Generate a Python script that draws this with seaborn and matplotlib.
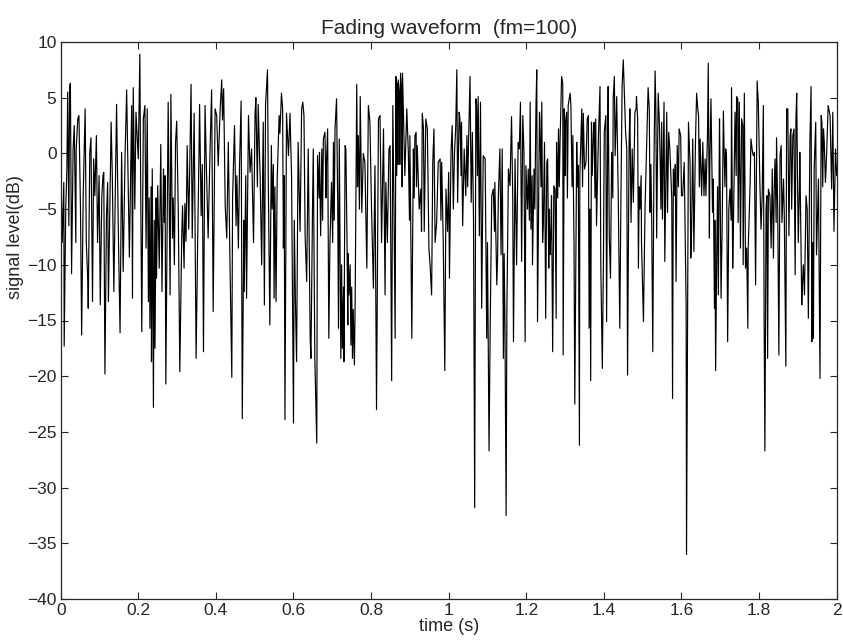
import numpy as np
import pandas as pd
import matplotlib
matplotlib.use("Agg")
import matplotlib.pyplot as plt
import seaborn as sns

sns.set_style("ticks")
plt.rcParams['font.family'] = ['Liberation Sans', 'DejaVu Sans']

# (time s, level dB), one block per ~0.17 s
seg01 = [(0.000, -0.2), (0.004, -8.0), (0.008, -2.6), (0.009, -17.3), (0.013, -5.0), (0.016, -1.4),
         (0.018, 5.5), (0.021, -6.5), (0.023, 6.0), (0.025, 6.3), (0.027, -5.0), (0.028, -10.8),
         (0.032, 0.4), (0.035, 2.5), (0.039, -8.0), (0.040, 0.4), (0.044, 3.1), (0.047, 3.4),
         (0.051, -5.0), (0.054, -16.3), (0.058, -3.8), (0.061, 1.0), (0.063, 4.0), (0.066, -8.0),
         (0.070, -11.6), (0.071, -13.9), (0.075, 0.1), (0.078, 1.4), (0.082, -13.3), (0.085, -0.5),
         (0.088, -3.8), (0.092, 1.6), (0.095, -8.0), (0.099, -2.0), (0.102, -13.6), (0.106, -3.8),
         (0.109, -2.0), (0.111, -1.7), (0.114, -19.8), (0.118, -5.6), (0.121, -2.6), (0.123, -13.3),
         (0.126, -6.5), (0.130, 2.8), (0.133, -2.0), (0.137, -12.4), (0.140, -5.0), (0.144, 4.4),
         (0.149, -8.0), (0.153, -16.1), (0.157, 0.1), (0.161, -10.6), (0.166, 0.0)]
seg02 = [(0.170, 5.7), (0.177, -9.3), (0.183, 4.3), (0.185, -13.0), (0.187, 5.9), (0.191, -5.0),
         (0.194, 3.7), (0.200, -0.5), (0.204, 8.9), (0.206, -2.0), (0.209, -16.0), (0.213, 3.1),
         (0.217, 4.3), (0.220, -8.5), (0.223, 4.0), (0.226, -13.3), (0.228, -4.0), (0.230, -15.7),
         (0.233, -3.0), (0.234, -18.7), (0.236, -1.4), (0.239, -22.8), (0.241, -6.0), (0.243, -17.5),
         (0.246, -4.0), (0.247, -11.2), (0.250, -2.9), (0.254, -10.3), (0.258, 0.8), (0.261, -12.4),
         (0.265, -1.4), (0.267, -6.2), (0.269, -2.0), (0.271, -20.7), (0.275, -3.0), (0.277, 4.6),
         (0.282, -12.7), (0.284, 5.3), (0.288, -7.6), (0.290, -4.0), (0.293, -10.0), (0.296, 1.0),
         (0.299, 2.9), (0.303, -5.0), (0.307, -19.6), (0.312, -7.4), (0.314, -4.7), (0.318, -10.3),
         (0.320, -4.5), (0.323, -7.9), (0.326, 0.7), (0.330, -6.8), (0.333, -0.5)]
seg03 = [(0.336, 6.2), (0.339, -7.6), (0.344, 3.6), (0.349, -18.4), (0.353, -8.0), (0.356, -1.0),
         (0.358, 4.4), (0.362, -5.6), (0.365, -1.0), (0.368, -17.8), (0.372, 4.3), (0.376, -2.0),
         (0.380, -7.6), (0.385, 0.4), (0.389, 5.7), (0.393, -14.2), (0.398, 4.0), (0.402, 3.4),
         (0.406, -1.1), (0.411, 4.0), (0.415, 6.6), (0.417, 3.0), (0.420, 5.8), (0.424, -4.7),
         (0.428, -7.6), (0.432, 1.0), (0.436, -9.1), (0.441, -20.1), (0.443, -4.0), (0.448, 2.5),
         (0.452, -6.5), (0.454, -2.0), (0.458, -8.5), (0.461, -1.0), (0.465, 4.7), (0.468, -23.8),
         (0.472, -6.0), (0.473, -12.4), (0.477, -2.0), (0.479, -13.0), (0.484, 3.4), (0.488, -1.7),
         (0.492, 0.4), (0.497, -8.0), (0.501, 3.6)]
seg04 = [(0.503, 5.0), (0.507, -3.0), (0.509, 4.4), (0.514, -2.0), (0.518, -10.0), (0.522, 2.8),
         (0.525, -13.6), (0.528, 4.4), (0.533, 7.5), (0.535, -2.3), (0.539, -15.4), (0.543, 0.7),
         (0.545, -5.0), (0.548, -1.0), (0.550, -13.0), (0.552, -3.0), (0.555, -13.3), (0.558, -2.3),
         (0.563, 3.4), (0.565, 1.8), (0.569, 5.4), (0.572, 4.0), (0.574, -8.5), (0.576, -2.0),
         (0.578, -23.9), (0.582, 3.6), (0.587, -0.2), (0.591, 3.6), (0.595, -2.0), (0.600, -24.2),
         (0.602, -6.0), (0.605, -13.3), (0.608, -18.7), (0.612, 1.0), (0.617, -7.0), (0.621, 4.0),
         (0.624, 4.6), (0.627, 3.4), (0.630, -7.4), (0.634, -11.5), (0.638, 0.4), (0.643, -16.6),
         (0.645, -18.4), (0.649, -5.0), (0.651, 0.4), (0.655, -18.4), (0.660, -26.0)]
seg05 = [(0.662, -0.2), (0.666, -4.0), (0.667, 0.1), (0.670, -7.4), (0.673, 0.4), (0.675, -6.0),
         (0.677, 1.3), (0.681, 1.9), (0.684, -4.0), (0.685, -0.8), (0.688, 2.2), (0.691, -16.6),
         (0.694, -8.0), (0.698, -2.6), (0.701, -8.0), (0.703, 1.0), (0.705, -6.0), (0.707, 2.2),
         (0.711, 4.9), (0.714, -4.7), (0.716, -15.7), (0.718, 1.3), (0.722, -18.4), (0.724, -10.0),
         (0.726, -17.5), (0.729, -12.0), (0.730, -18.7), (0.733, 0.7), (0.735, 0.4), (0.738, -8.0),
         (0.740, -15.4), (0.741, -9.0), (0.743, -12.7), (0.746, -10.0), (0.748, -17.2), (0.750, -12.0),
         (0.752, -18.4), (0.754, -14.0), (0.757, -19.0), (0.759, -13.0), (0.763, 6.2), (0.765, -3.0),
         (0.767, 1.6), (0.770, -5.0), (0.772, 5.1), (0.776, -5.3), (0.780, 0.0), (0.784, -0.8),
         (0.789, -10.3), (0.793, 4.3), (0.797, 2.8), (0.801, -4.7), (0.806, -12.1), (0.810, -1.1),
         (0.814, -23.0), (0.819, 3.1), (0.823, 3.4), (0.827, -8.0), (0.832, 2.2), (0.836, -12.7)]
seg06 = [(0.838, -2.6), (0.842, -8.0), (0.846, 0.4), (0.849, 0.7), (0.853, -20.4), (0.856, 4.3),
         (0.859, -5.0), (0.862, -16.6), (0.864, 6.9), (0.866, -2.0), (0.868, 6.3), (0.869, -1.0),
         (0.870, 6.6), (0.873, 5.4), (0.874, -1.0), (0.876, 7.2), (0.879, 5.4), (0.880, -3.0),
         (0.881, 7.2), (0.883, 4.0), (0.887, -2.0), (0.892, 4.0), (0.896, 0.1), (0.899, -6.0),
         (0.900, 1.6), (0.905, -16.6), (0.909, 0.4), (0.911, -4.0), (0.913, 1.6), (0.916, 1.9),
         (0.917, -3.0), (0.919, 0.7), (0.924, -5.0), (0.928, -3.2), (0.930, -7.0), (0.932, 3.6),
         (0.935, 2.2), (0.937, -7.0), (0.941, 3.1), (0.945, 2.2), (0.949, -8.5), (0.952, -10.0),
         (0.956, -12.7), (0.959, -0.8), (0.962, 2.2), (0.965, -8.0), (0.969, -6.2), (0.973, -0.8),
         (0.978, -0.5), (0.980, -6.0), (0.982, -0.8), (0.986, -8.0), (0.990, -19.5), (0.993, -3.2),
         (0.997, -7.0), (1.000, -1.7)]
seg07 = [(1.002, -11.2), (1.006, 0.1), (1.009, 2.5), (1.012, -5.0), (1.015, 0.1), (1.018, 2.2),
         (1.021, 7.5), (1.023, -4.4), (1.027, 3.7), (1.029, 3.1), (1.032, -2.0), (1.033, 2.8),
         (1.036, -6.5), (1.040, 0.4), (1.044, -3.8), (1.047, 1.6), (1.049, -3.0), (1.051, 0.7),
         (1.055, 6.9), (1.058, -4.4), (1.061, 1.9), (1.064, -6.0), (1.067, -31.8), (1.070, 4.9),
         (1.072, 4.3), (1.074, -2.0), (1.076, 5.1), (1.079, -7.4), (1.082, 4.6), (1.085, -13.9),
         (1.089, -0.2), (1.094, -0.5), (1.098, -16.6), (1.100, -8.0), (1.104, -26.7), (1.107, -15.4),
         (1.111, -3.8), (1.115, -3.2), (1.118, -7.0), (1.119, -2.6), (1.124, -11.8), (1.126, -9.4),
         (1.128, -3.8), (1.132, 0.4), (1.135, -9.1), (1.138, 0.4), (1.141, -18.4), (1.143, -9.0),
         (1.145, -15.1), (1.148, -32.5), (1.150, -14.0), (1.154, -1.4), (1.158, -2.9), (1.162, 3.3),
         (1.165, -3.8), (1.167, -16.9), (1.171, -0.5)]
seg08 = [(1.175, -10.0), (1.179, 1.0), (1.182, 0.4), (1.185, 4.6), (1.188, -9.7), (1.191, 3.4),
         (1.194, 0.1), (1.197, -16.9), (1.199, -1.1), (1.203, -5.0), (1.205, -1.4), (1.208, -6.0),
         (1.210, 4.6), (1.212, -6.8), (1.215, -2.0), (1.216, -10.0), (1.220, -1.4), (1.222, -5.0),
         (1.225, 4.3), (1.227, 7.5), (1.229, -15.1), (1.234, 3.7), (1.235, 3.1), (1.238, -3.0),
         (1.240, 4.6), (1.242, -8.0), (1.244, -6.2), (1.247, 1.0), (1.250, -14.8), (1.253, -0.8),
         (1.255, -0.5), (1.258, -10.3), (1.259, -5.0), (1.261, -9.1), (1.263, -7.4), (1.265, -3.8),
         (1.268, -17.8), (1.271, -2.9), (1.274, -3.2), (1.277, -14.8), (1.278, 1.0), (1.281, -4.0),
         (1.283, 2.2), (1.285, -3.0), (1.287, 1.0), (1.291, 6.9), (1.294, 6.3), (1.295, -18.1),
         (1.298, 4.0), (1.300, -2.0), (1.301, 2.8), (1.304, 3.7), (1.306, -4.0), (1.308, 4.3),
         (1.313, 5.4), (1.315, 4.3), (1.318, -3.0), (1.320, 1.6), (1.323, -8.0), (1.325, -22.5),
         (1.330, 1.0), (1.332, -3.0), (1.334, -1.1), (1.337, -26.2), (1.338, -2.0)]
seg09 = [(1.343, 4.0), (1.345, -3.0), (1.347, 3.6), (1.350, -1.4), (1.354, -0.8), (1.357, 3.1),
         (1.360, 3.4), (1.362, -15.7), (1.364, -5.0), (1.366, -20.4), (1.368, 2.8), (1.370, -2.0),
         (1.373, 1.9), (1.375, 2.8), (1.377, -4.0), (1.379, 3.1), (1.381, -6.5), (1.386, 1.6),
         (1.390, 6.0), (1.392, -10.0), (1.396, -19.3), (1.399, -8.8), (1.401, 1.9), (1.405, 3.4),
         (1.407, -15.1), (1.410, 3.1), (1.411, 6.0), (1.414, -7.6), (1.417, -11.2), (1.420, 0.1),
         (1.423, -4.0), (1.424, 4.9), (1.427, 6.9), (1.429, -0.2), (1.433, 5.1), (1.437, -3.8),
         (1.441, -15.7), (1.444, -3.8), (1.447, 6.0), (1.450, 8.4), (1.453, 5.1), (1.456, 1.9),
         (1.459, 0.4), (1.461, -19.9), (1.465, 1.0), (1.467, 4.0), (1.470, -6.2), (1.473, 0.4),
         (1.476, -4.4), (1.480, 3.7), (1.483, 4.0), (1.484, 5.1), (1.487, 3.1), (1.489, -10.3),
         (1.491, -3.0), (1.493, -5.0), (1.496, -2.0), (1.497, -8.0), (1.502, -15.1), (1.506, -5.0)]
seg10 = [(1.510, 0.4), (1.514, 5.9), (1.517, 4.0), (1.519, -5.3), (1.521, -1.0), (1.523, -5.0),
         (1.526, -17.8), (1.529, -1.1), (1.532, 7.4), (1.534, 4.0), (1.536, -7.6), (1.540, 5.4),
         (1.543, 2.8), (1.545, -0.5), (1.547, -5.0), (1.549, 2.8), (1.551, -5.9), (1.555, 4.6),
         (1.557, -9.7), (1.562, 3.7), (1.564, -5.3), (1.567, 1.9), (1.570, 0.4), (1.575, -4.1),
         (1.577, -22.0), (1.579, -1.4), (1.582, -3.8), (1.584, -1.0), (1.586, -11.5), (1.589, 0.7),
         (1.592, -3.0), (1.594, 2.2), (1.598, 1.6), (1.600, -3.8), (1.603, -3.8), (1.607, -0.8),
         (1.612, -13.6), (1.613, -36.0), (1.618, 2.8), (1.622, -0.8), (1.624, -9.4), (1.626, -7.0),
         (1.629, 1.3), (1.632, -8.8), (1.636, 1.0), (1.639, 5.4), (1.642, 4.0), (1.644, 3.4),
         (1.646, -3.0), (1.648, 1.3), (1.652, -3.8), (1.655, 1.0), (1.658, -3.8), (1.661, -0.5),
         (1.663, -3.8), (1.667, 1.6), (1.669, 8.1), (1.672, -7.6)]
seg11 = [(1.673, -1.1), (1.676, 4.9), (1.680, -5.3), (1.682, -2.3), (1.685, -13.9), (1.686, -6.0),
         (1.688, -19.5), (1.691, -8.5), (1.693, -3.0), (1.695, -12.7), (1.698, 3.1), (1.699, -0.2),
         (1.702, -13.0), (1.705, -6.2), (1.708, 3.8), (1.710, 0.1), (1.712, -3.0), (1.714, 0.4),
         (1.716, -0.2), (1.719, -16.9), (1.722, -5.0), (1.725, -3.2), (1.728, -6.0), (1.729, 5.9),
         (1.732, -10.3), (1.734, -6.2), (1.736, -1.0), (1.738, 3.7), (1.741, -2.0), (1.742, 5.1),
         (1.745, 4.9), (1.746, -6.2), (1.749, 4.6), (1.752, -8.5), (1.755, 3.1), (1.758, 2.5),
         (1.759, -10.0), (1.762, 5.4), (1.765, -10.3), (1.768, -8.5), (1.771, -15.7), (1.772, -8.5),
         (1.777, -2.6), (1.779, 1.3), (1.783, 0.1), (1.785, -0.2), (1.788, 0.1), (1.791, -11.8),
         (1.795, 6.5), (1.798, 4.6), (1.801, -1.0), (1.802, -2.6), (1.805, -6.8), (1.808, -3.8),
         (1.811, 4.3), (1.813, -14.8), (1.815, -26.7), (1.818, -5.0), (1.820, -3.8), (1.822, -18.4),
         (1.824, -3.2), (1.828, -3.8), (1.831, -8.5), (1.834, -1.4), (1.837, -9.4), (1.839, -3.2)]
seg12 = [(1.841, -0.5), (1.844, -6.2), (1.845, 1.4), (1.848, -5.0), (1.851, -18.1), (1.854, -0.2),
         (1.857, 0.7), (1.859, -6.2), (1.863, -2.3), (1.865, -5.6), (1.869, -19.1), (1.871, 4.0),
         (1.874, 4.0), (1.877, -7.4), (1.880, 1.6), (1.882, 2.2), (1.884, -5.0), (1.887, 1.6),
         (1.890, 2.2), (1.893, -10.9), (1.895, 3.1), (1.897, 5.4), (1.899, -2.0), (1.901, -8.0),
         (1.904, -3.0), (1.905, 0.1), (1.910, -13.6), (1.912, -11.5), (1.914, -10.0), (1.917, -12.7),
         (1.921, -3.8), (1.924, -5.0), (1.927, -14.8), (1.931, 1.0), (1.934, 6.0), (1.936, -16.9),
         (1.938, -8.0), (1.940, -16.6), (1.942, -1.4), (1.946, 2.8), (1.948, -9.1), (1.953, -2.3),
         (1.957, -20.2), (1.960, 3.4), (1.962, 2.8), (1.964, -3.0), (1.966, 2.2), (1.968, 1.0),
         (1.971, -2.6), (1.974, -0.2), (1.978, 4.3), (1.983, 3.4), (1.987, -3.2), (1.990, 3.7),
         (1.993, -7.0), (1.997, 0.4), (2.000, -2.0)]

segments = [seg01, seg02, seg03, seg04, seg05, seg06, seg07, seg08, seg09, seg10, seg11, seg12]
time_s = [p[0] for seg in segments for p in seg]
level_db = [p[1] for seg in segments for p in seg]

x_ticks = [0, 0.2, 0.4, 0.6, 0.8, 1, 1.2, 1.4, 1.6, 1.8, 2]
x_tick_labels = ["0", "0.2", "0.4", "0.6", "0.8", "1", "1.2", "1.4", "1.6", "1.8", "2"]
y_ticks = [-40, -35, -30, -25, -20, -15, -10, -5, 0, 5, 10]

df = pd.DataFrame({"time": time_s, "level": level_db})

fig = plt.figure(figsize=(8.43, 6.41), dpi=100)
ax = fig.add_axes([0.072, 0.0655, 0.9205, 0.869])

# raw trace, no aggregation
sns.lineplot(data=df, x="time", y="level", ax=ax, estimator=None, sort=False,
             color="black", linewidth=0.85)

ax.set_xlim(0, 2)
ax.set_ylim(-40, 10)
ax.set_xticks(x_ticks)
ax.set_xticklabels(x_tick_labels)
ax.set_yticks(y_ticks)
ax.tick_params(direction="in", length=5, width=0.8, top=True, right=True,
               labelsize=12.5, pad=3)
for sp in ax.spines.values():
    sp.set_linewidth(0.9)
    sp.set_visible(True)

ax.set_title("Fading waveform  (fm=100)", fontsize=15, pad=6)
ax.set_xlabel("time (s)", fontsize=13, labelpad=0)
ax.set_ylabel("signal level(dB)", fontsize=13, labelpad=2)
ax.yaxis.set_label_coords(-0.047, 0.65)

fig.savefig("out.png", dpi=100)
